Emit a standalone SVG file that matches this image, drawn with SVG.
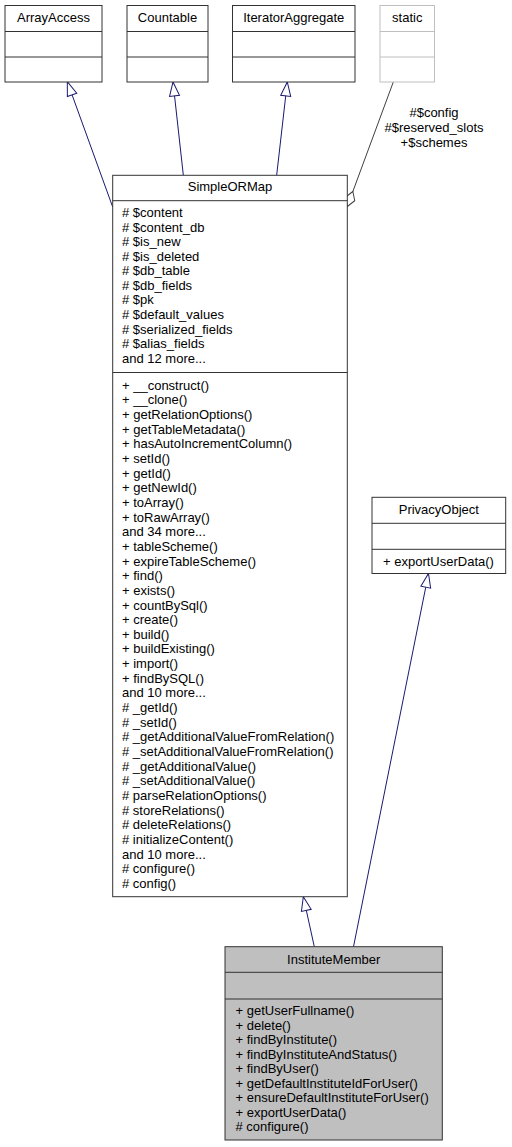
<svg xmlns="http://www.w3.org/2000/svg" width="512" height="1147" viewBox="0 0 512 1147">
<style>
text{font-family:"Liberation Sans",Arial,sans-serif;font-size:13px;fill:#000}
.c{text-anchor:middle}
.box{fill:#fff;stroke:#333;stroke-width:1}
.ghost{fill:#fff;stroke:#bfbfbf;stroke-width:1}
.cur{fill:#bfbfbf;stroke:#333;stroke-width:1}
.div{stroke:#333;stroke-width:1}
.gdiv{stroke:#bfbfbf;stroke-width:1}
.inh{fill:none;stroke:#191970;stroke-width:1}
.use{fill:none;stroke:#404040;stroke-width:1}
</style>
<defs>
<marker id="tri" markerUnits="userSpaceOnUse" markerWidth="16" markerHeight="12" refX="14" refY="5" orient="auto" overflow="visible">
<path d="M0,0 L14,5 L0,10 Z" fill="#fff" stroke="#191970" stroke-width="1"/>
</marker>
<marker id="dia" markerUnits="userSpaceOnUse" markerWidth="18" markerHeight="12" refX="16" refY="5" orient="auto" overflow="visible">
<path d="M0,5 L8,0 L16,5 L8,10 Z" fill="#fff" stroke="#404040" stroke-width="1"/>
</marker>
</defs>

<g id="connectors">
<path class="inh" d="M112.7,207 L67.3,81.7" marker-end="url(#tri)"/>
<path class="inh" d="M183.3,175 L173,82" marker-end="url(#tri)"/>
<path class="inh" d="M276.7,175 L287.3,82" marker-end="url(#tri)"/>
<path class="use" d="M393.3,82 L347.3,206.5" marker-end="url(#dia)"/>
<text class="c" x="434" y="117.2">#$config</text>
<text class="c" x="434" y="132.2">#$reserved_slots</text>
<text class="c" x="434" y="146.8">+$schemes</text>
<path class="inh" d="M314.3,946.7 L303.3,896.7" marker-end="url(#tri)"/>
<path class="inh" d="M353.5,946.7 L428.5,573.5" marker-end="url(#tri)"/>
</g>

<g id="ArrayAccess">
<rect class="box" x="5" y="5.5" width="97" height="76.5"/>
<line class="div" x1="5" y1="31.5" x2="102" y2="31.5"/>
<line class="div" x1="5" y1="57" x2="102" y2="57"/>
<text class="c" x="53.5" y="22">ArrayAccess</text>
</g>

<g id="Countable">
<rect class="box" x="127" y="5.5" width="81" height="76.5"/>
<line class="div" x1="127" y1="31.5" x2="208" y2="31.5"/>
<line class="div" x1="127" y1="57" x2="208" y2="57"/>
<text class="c" x="167.5" y="22">Countable</text>
</g>

<g id="IteratorAggregate">
<rect class="box" x="232.5" y="5.5" width="122.5" height="76.5"/>
<line class="div" x1="232.5" y1="31.5" x2="355" y2="31.5"/>
<line class="div" x1="232.5" y1="57" x2="355" y2="57"/>
<text class="c" x="293.75" y="22">IteratorAggregate</text>
</g>

<g id="static">
<rect class="ghost" x="380" y="5.5" width="54.5" height="76.5"/>
<line class="gdiv" x1="380" y1="31.5" x2="434.5" y2="31.5"/>
<line class="gdiv" x1="380" y1="57" x2="434.5" y2="57"/>
<text class="c" x="407.25" y="22">static</text>
</g>

<g id="SimpleORMap">
<rect class="box" x="112.7" y="175.3" width="234.6" height="721.4"/>
<line class="div" x1="112.7" y1="200.7" x2="347.3" y2="200.7"/>
<line class="div" x1="112.7" y1="372.5" x2="347.3" y2="372.5"/>
<text class="c" x="230" y="191.2">SimpleORMap</text>
<text x="122" y="217.3">
<tspan x="122" dy="0"># $content</tspan>
<tspan x="122" dy="14.53"># $content_db</tspan>
<tspan x="122" dy="14.53"># $is_new</tspan>
<tspan x="122" dy="14.53"># $is_deleted</tspan>
<tspan x="122" dy="14.53"># $db_table</tspan>
<tspan x="122" dy="14.53"># $db_fields</tspan>
<tspan x="122" dy="14.53"># $pk</tspan>
<tspan x="122" dy="14.53"># $default_values</tspan>
<tspan x="122" dy="14.53"># $serialized_fields</tspan>
<tspan x="122" dy="14.53"># $alias_fields</tspan>
<tspan x="122" dy="14.53">and 12 more...</tspan>
</text>
<text x="122" y="389.6">
<tspan x="122" dy="0">+ __construct()</tspan>
<tspan x="122" dy="14.66">+ __clone()</tspan>
<tspan x="122" dy="14.66">+ getRelationOptions()</tspan>
<tspan x="122" dy="14.66">+ getTableMetadata()</tspan>
<tspan x="122" dy="14.66">+ hasAutoIncrementColumn()</tspan>
<tspan x="122" dy="14.66">+ setId()</tspan>
<tspan x="122" dy="14.66">+ getId()</tspan>
<tspan x="122" dy="14.66">+ getNewId()</tspan>
<tspan x="122" dy="14.66">+ toArray()</tspan>
<tspan x="122" dy="14.66">+ toRawArray()</tspan>
<tspan x="122" dy="14.66">and 34 more...</tspan>
<tspan x="122" dy="14.66">+ tableScheme()</tspan>
<tspan x="122" dy="14.66">+ expireTableScheme()</tspan>
<tspan x="122" dy="14.66">+ find()</tspan>
<tspan x="122" dy="14.66">+ exists()</tspan>
<tspan x="122" dy="14.66">+ countBySql()</tspan>
<tspan x="122" dy="14.66">+ create()</tspan>
<tspan x="122" dy="14.66">+ build()</tspan>
<tspan x="122" dy="14.66">+ buildExisting()</tspan>
<tspan x="122" dy="14.66">+ import()</tspan>
<tspan x="122" dy="14.66">+ findBySQL()</tspan>
<tspan x="122" dy="14.66">and 10 more...</tspan>
<tspan x="122" dy="14.66"># _getId()</tspan>
<tspan x="122" dy="14.66"># _setId()</tspan>
<tspan x="122" dy="14.66"># _getAdditionalValueFromRelation()</tspan>
<tspan x="122" dy="14.66"># _setAdditionalValueFromRelation()</tspan>
<tspan x="122" dy="14.66"># _getAdditionalValue()</tspan>
<tspan x="122" dy="14.66"># _setAdditionalValue()</tspan>
<tspan x="122" dy="14.66"># parseRelationOptions()</tspan>
<tspan x="122" dy="14.66"># storeRelations()</tspan>
<tspan x="122" dy="14.66"># deleteRelations()</tspan>
<tspan x="122" dy="14.66"># initializeContent()</tspan>
<tspan x="122" dy="14.66">and 10 more...</tspan>
<tspan x="122" dy="14.66"># configure()</tspan>
<tspan x="122" dy="14.66"># config()</tspan>
</text>
</g>

<g id="PrivacyObject">
<rect class="box" x="372" y="497.3" width="133.7" height="76.2"/>
<line class="div" x1="372" y1="523.3" x2="505.7" y2="523.3"/>
<line class="div" x1="372" y1="549.3" x2="505.7" y2="549.3"/>
<text class="c" x="438.85" y="513.6">PrivacyObject</text>
<text x="383" y="566.2">+ exportUserData()</text>
</g>

<g id="InstituteMember">
<rect class="cur" x="225" y="946.7" width="217.3" height="193.3"/>
<line class="div" x1="225" y1="972.3" x2="442.3" y2="972.3"/>
<line class="div" x1="225" y1="999" x2="442.3" y2="999"/>
<text class="c" x="333.65" y="963.5">InstituteMember</text>
<text x="235.5" y="1015.3">
<tspan x="235.5" dy="0">+ getUserFullname()</tspan>
<tspan x="235.5" dy="14.5">+ delete()</tspan>
<tspan x="235.5" dy="14.5">+ findByInstitute()</tspan>
<tspan x="235.5" dy="14.5">+ findByInstituteAndStatus()</tspan>
<tspan x="235.5" dy="14.5">+ findByUser()</tspan>
<tspan x="235.5" dy="14.5">+ getDefaultInstituteIdForUser()</tspan>
<tspan x="235.5" dy="14.5">+ ensureDefaultInstituteForUser()</tspan>
<tspan x="235.5" dy="14.5">+ exportUserData()</tspan>
<tspan x="235.5" dy="14.5"># configure()</tspan>
</text>
</g>
</svg>
